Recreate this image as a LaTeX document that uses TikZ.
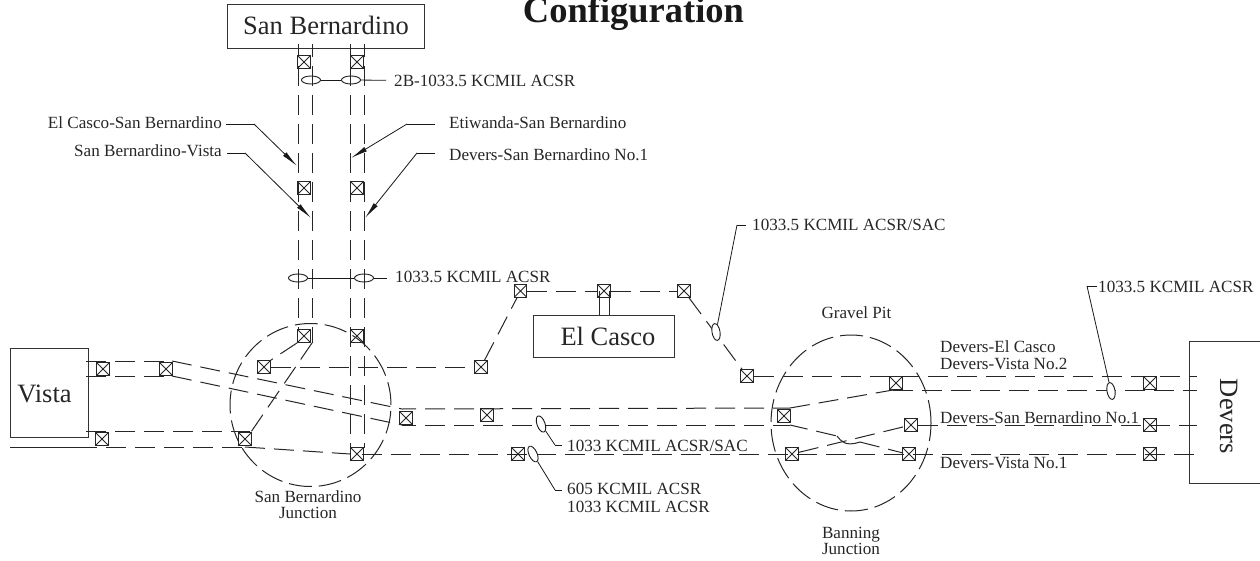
\documentclass[tikz,border=0pt]{standalone}
\usepackage{fontspec}
\setmainfont{Liberation Serif}
\usetikzlibrary{arrows.meta,shapes.geometric}
\tikzset{
	breaker/.style={rectangle, draw=black!85, line width=1.3pt, minimum size=12.5pt, inner sep=0pt,
		path picture={\draw[line width=0.9pt, black!85]
			(path picture bounding box.north west) -- (path picture bounding box.south east)
			(path picture bounding box.north east) -- (path picture bounding box.south west);}},
	feeder/.style={draw=black!85, line width=1pt, dash pattern=on 20pt off 9pt},
	solidline/.style={draw=black!85, line width=1pt},
	leader/.style={draw=black!90, line width=0.8pt},
	station/.style={rectangle, draw=black!80, line width=1pt, inner sep=0pt},
	stname/.style={anchor=base, inner sep=0pt, text=black!85, font=\fontsize{26.5}{30}\selectfont},
	lbl/.style={inner ysep=0pt, inner xsep=0pt, text height=12pt, text depth=0pt, text=black!85, font=\fontsize{17.1}{16}\selectfont},
	lblm/.style={inner sep=0pt, align=center, text=black!85, font=\fontsize{17.1}{16}\selectfont},
	cable/.style={ellipse, draw=black!90, line width=0.9pt, inner sep=0pt, minimum width=19pt, minimum height=8pt},
	cablet/.style={cable, fill=white, minimum width=17pt},
	bank/.style={ellipse, draw=black!85, line width=1pt, inner sep=0pt, dash pattern=on 23pt off 7pt}
}
\begin{document}
\begin{tikzpicture}[x=1pt, y=-1pt]
	\useasboundingbox (0,0) rectangle (1260,561);

	\node (title) [anchor=base, inner sep=0pt, text=black!90, font=\fontsize{36.5}{40}\selectfont\bfseries] at (633.5,23) {Configuration};

	\node (sSB) [station, minimum width=197pt, minimum height=44pt] at (325.5,27) {};
	\node (sV) [station, minimum width=78pt, minimum height=89pt] at (49,392.5) {};
	\node (sEC) [station, minimum width=141pt, minimum height=42pt] at (603.5,336) {};
	\node (sD) [station, minimum width=71pt, minimum height=142pt] at (1224.5,412) {};
	\node (nSB) [stname] at (326,34.3) {San Bernardino};
	\node (nV) [stname] at (44.5,402) {Vista};
	\node (nEC) [stname] at (608,345) {El Casco};
	\node (nD) [stname, rotate=-90] at (1220,416.5) {Devers};

	\node (jSB) [bank, minimum width=161pt, minimum height=163pt] at (310.5,405) {};
	\node (jBA) [bank, minimum width=160pt, minimum height=176pt] at (851,423) {};

	\node (b1) [breaker] at (304,62) {};
	\node (b2) [breaker] at (357,62) {};
	\node (b3) [breaker] at (304,188) {};
	\node (b4) [breaker] at (357,188) {};
	\node (b5) [breaker] at (304,336) {};
	\node (b6) [breaker] at (357,336) {};
	\node (b7) [breaker] at (103,369) {};
	\node (b8) [breaker] at (166,369) {};
	\node (b9) [breaker] at (102,439) {};
	\node (b10) [breaker] at (264,367) {};
	\node (b11) [breaker] at (245,439) {};
	\node (b12) [breaker] at (357,454) {};
	\node (b13) [breaker] at (406,418) {};
	\node (b14) [breaker] at (487,415) {};
	\node (b15) [breaker] at (481,367) {};
	\node (b16) [breaker] at (520.5,291) {};
	\node (b17) [breaker] at (604,291) {};
	\node (b18) [breaker] at (684,291) {};
	\node (b19) [breaker] at (747,376) {};
	\node (b20) [breaker] at (518,454) {};
	\node (b21) [breaker] at (784,416) {};
	\node (b22) [breaker] at (896,383) {};
	\node (b23) [breaker] at (911,425) {};
	\node (b24) [breaker] at (792,454) {};
	\node (b25) [breaker] at (909,454) {};
	\node (b26) [breaker] at (1150,383) {};
	\node (b27) [breaker] at (1150,425) {};
	\node (b28) [breaker] at (1150,454) {};

	\coordinate (a1) at (298,44);
	\coordinate (a2) at (298,331);
	\coordinate (a3) at (312,44);
	\coordinate (a4) at (312,343);
	\coordinate (a5) at (350,44);
	\coordinate (a6) at (350,448);
	\coordinate (a7) at (364,44);
	\coordinate (a8) at (364,448);
	\coordinate (a9) at (251,432);

	\coordinate (v1) at (86,361);
	\coordinate (v2) at (172,361);
	\coordinate (v3) at (402,409);
	\coordinate (v4) at (86,376);
	\coordinate (v5) at (172,376);
	\coordinate (v6) at (402,425);
	\coordinate (v7) at (86,431);
	\coordinate (v8) at (250,431);
	\coordinate (v9) at (10,447);
	\coordinate (v10) at (97,447);
	\coordinate (v11) at (106,447);
	\coordinate (v12) at (245,447);
	\coordinate (v13) at (350,454);
	\coordinate (v14) at (362,454);

	\coordinate (g1) at (790,408);
	\coordinate (g2) at (790,425);
	\coordinate (g3) at (893,390);
	\coordinate (g4) at (837,436);
	\coordinate (g5) at (860,442);
	\coordinate (g6) at (903,453);
	\coordinate (d1) at (1197,376);
	\coordinate (d2) at (1197,390);
	\coordinate (d3) at (1197,425);
	\coordinate (d4) at (1197,454);
	\coordinate (e1) at (599,291);
	\coordinate (e2) at (599,315);
	\coordinate (e3) at (609,291);
	\coordinate (e4) at (609,315);

	\path[feeder]
	(a1) edge[dash phase=7pt] (a2)
	(a3) edge[dash phase=7pt] (a4)
	(a5) edge[dash phase=7pt] (a6)
	(a7) edge[dash phase=7pt] (a8)
	(a4) edge (a9)
	(b5.south west) edge (b10.north east)
	(b10) edge (b15)
	(b15) edge (b16)
	(b16) edge (b17)
	(b17) edge (b18)
	(b18) edge (b19)
	(b19) edge (d1)
	(v1) edge (v2)
	(v2) edge (v3)
	(v4) edge (v5)
	(v5) edge (v6)
	(v3) edge[dash phase=6pt] (g1)
	(v6) edge[dash phase=6pt] (g2)
	(v7) edge (v8)
	(v11) edge (v12)
	(v12) edge (v13)
	(v14) edge (d4)
	(g1) edge (g3)
	(g3) edge (d2)
	(g2) edge[dash phase=2pt] (g4)
	(g5) edge (g6)
	(b24) edge (b23)
	(b23) edge (d3);

	\path[solidline]
	(e1) edge (e2)
	(e3) edge (e4)
	(v9) edge (v10);
	\draw[solidline] (g4) .. controls (841,441) and (845,447) .. (g5);

	\node (c1) [cable] at (311,80) {};
	\node (c2) [cable] at (351,80) {};
	\node (c3) [cable] at (298,278) {};
	\node (c4) [cable] at (364,278) {};
	\node (c5) [cablet, rotate=-80] at (716,332) {};
	\node (c6) [cablet, rotate=-70] at (541,424) {};
	\node (c7) [cablet, rotate=-65] at (533,454) {};
	\node (c8) [cablet, rotate=-80] at (1111,391) {};

	\node (l1) [lbl, anchor=west, inner xsep=8pt] at (386,81) {2B-1033.5 KCMIL ACSR};
	\node (l2) [lbl, anchor=east, inner xsep=4pt, text depth=2pt] at (226,124) {El Casco-San Bernardino};
	\node (l3) [lbl, anchor=east, inner xsep=5pt, text depth=4pt] at (227,153) {San Bernardino-Vista};
	\node (l4) [lbl, anchor=west, inner xsep=14pt, text depth=2pt] at (435,124) {Etiwanda-San Bernardino};
	\node (l5) [lbl, anchor=west] at (449,155) {Devers-San Bernardino No.1};
	\node (l6) [lbl, anchor=west, inner xsep=8pt, text depth=2pt] at (387,278) {1033.5 KCMIL ACSR};
	\node (l7) [lbl, anchor=west, inner xsep=6pt] at (746,225) {1033.5 KCMIL ACSR/SAC};
	\node (l8) [lbl, anchor=west, inner xsep=5pt] at (562,445) {1033 KCMIL ACSR/SAC};
	\node (l9) [lblm, anchor=west, align=left, font=\fontsize{17.1}{18}\selectfont] at (567,498) {605 KCMIL ACSR\\1033 KCMIL ACSR};
	\node (l10) [lbl, anchor=west, inner xsep=1pt] at (1097,286) {1033.5 KCMIL ACSR};
	\node (l11) [lbl] at (856.5,312) {Gravel Pit};
	\node (l12) [lblm, anchor=west] at (940,347) {Devers-El Casco};
	\node (l13) [lblm, anchor=west] at (940,364) {Devers-Vista No.2};
	\node (l14) [lblm, anchor=west] at (940,418) {Devers-San Bernardino No.1};
	\node (l15) [lblm, anchor=west] at (940,463) {Devers-Vista No.1};
	\node (l16) [lblm] at (851,541) {Banning\\Junction};
	\node (l17) [lblm] at (308,505) {San Bernardino\\Junction};

	\coordinate (k1) at (254,124);
	\coordinate (k2) at (297,166);
	\coordinate (k3) at (245,153);
	\coordinate (k4) at (311,218);
	\coordinate (k5) at (407,124);
	\coordinate (k6) at (351,158);
	\coordinate (k7) at (435,153);
	\coordinate (k8) at (417,153);
	\coordinate (k9) at (365,218);
	\coordinate (k10) at (737,225);
	\coordinate (k11) at (555,445);
	\coordinate (k12) at (562,490);
	\coordinate (k13) at (555,490);
	\coordinate (k14) at (1087,286);

	\path[leader]
	(c1) edge (c2)
	(c2) edge (l1)
	(c3) edge (c4)
	(c4) edge (l6)
	(l2) edge (k1)
	(l3) edge (k3)
	(l4) edge (k5)
	(k7) edge (k8)
	(l7) edge (k10)
	(k10) edge (c5)
	(l8) edge (k11)
	(k11) edge (c6)
	(k12) edge (k13)
	(k13) edge (c7)
	(l10) edge (k14)
	(k14) edge (c8);

	\draw[leader, -{Latex[length=17pt, width=5pt]}] (k1) -- (k2);
	\draw[leader, -{Latex[length=17pt, width=5pt]}] (k3) -- (k4);
	\draw[leader, -{Latex[length=17pt, width=5pt]}] (k5) -- (k6);
	\draw[leader, -{Latex[length=17pt, width=5pt]}] (k8) -- (k9);
\end{tikzpicture}
\end{document}
